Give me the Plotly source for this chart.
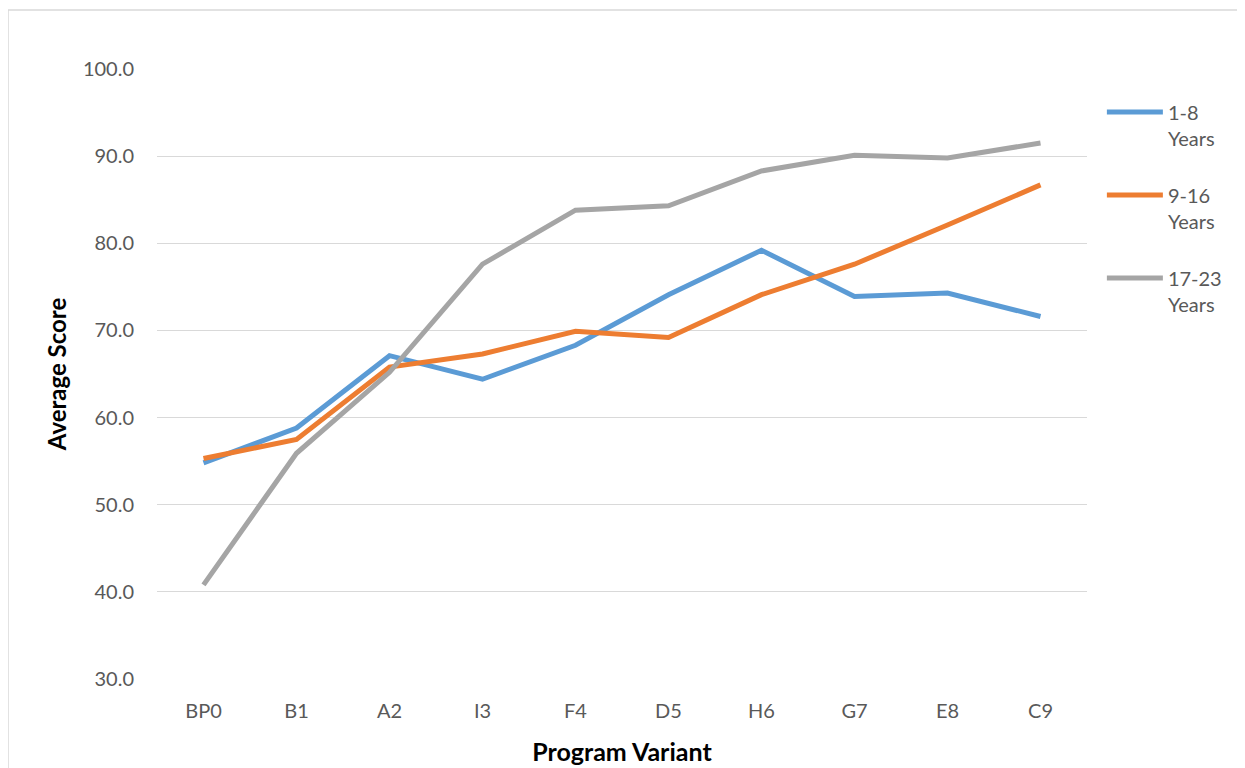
import plotly.graph_objects as go

categories = ["BP0", "B1", "A2", "I3", "F4", "D5", "H6", "G7", "E8", "C9"]
series_names = ["1-8<br>Years", "9-16<br>Years", "17-23<br>Years"]
years_1_8 = [54.8, 58.8, 67.1, 64.4, 68.3, 74.1, 79.2, 73.9, 74.3, 71.6]
years_9_16 = [55.3, 57.5, 65.8, 67.3, 69.9, 69.2, 74.1, 77.6, 82.1, 86.7]
years_17_23 = [40.8, 55.9, 65.2, 77.6, 83.8, 84.3, 88.3, 90.1, 89.8, 91.5]
tick_vals = [30, 40, 50, 60, 70, 80, 90, 100]
tick_text = ["30.0", "40.0", "50.0", "60.0", "70.0", "80.0", "90.0", "100.0"]

colors = ["#5B9BD5", "#ED7D31", "#A5A5A5"]
font_family = "Lato, 'Open Sans', sans-serif"

fig = go.Figure()
for i, (name, vals) in enumerate(zip(series_names, [years_1_8, years_9_16, years_17_23])):
    fig.add_trace(go.Scatter(
        x=categories, y=vals, name=name, mode="lines",
        line=dict(color=colors[i], width=5),
        legendgroup=f"g{i}",
    ))

fig.update_layout(
    width=1237, height=760,
    margin=dict(l=149, r=158, t=61, b=89),
    paper_bgcolor="white", plot_bgcolor="white",
    font=dict(family=font_family, size=20, color="#595959"),
    showlegend=True,
    legend=dict(
        x=1.016, y=0.9615, xanchor="left", yanchor="top",
        valign="top", tracegroupgap=28, itemwidth=56,
        font=dict(size=20, color="#595959"),
        bgcolor="rgba(0,0,0,0)",
    ),
    xaxis=dict(
        type="category", showgrid=False, zeroline=False,
        showline=False, ticks="outside", ticklen=14,
        tickcolor="rgba(0,0,0,0)", automargin=False,
        range=[-0.5, len(categories) - 0.5],
        title=dict(text="<b>Program Variant</b>", font=dict(size=25, color="black"), standoff=22),
    ),
    yaxis=dict(
        range=[30, 100], tickvals=tick_vals, ticktext=tick_text,
        showgrid=True, gridcolor="#D9D9D9", gridwidth=1.3,
        zeroline=False, showline=False, ticks="outside", ticklen=18,
        tickcolor="rgba(0,0,0,0)", automargin=False,
        title=dict(text="<b>Average Score</b>", font=dict(size=24, color="black"), standoff=9),
    ),
    shapes=[dict(
        type="rect", xref="paper", yref="paper",
        x0=-0.1602, x1=1.5, y0=-0.5, y1=1.0967,
        line=dict(color="#D9D9D9", width=1.5), fillcolor="rgba(0,0,0,0)",
        layer="below",
    )],
)

fig.write_html("out.html")
